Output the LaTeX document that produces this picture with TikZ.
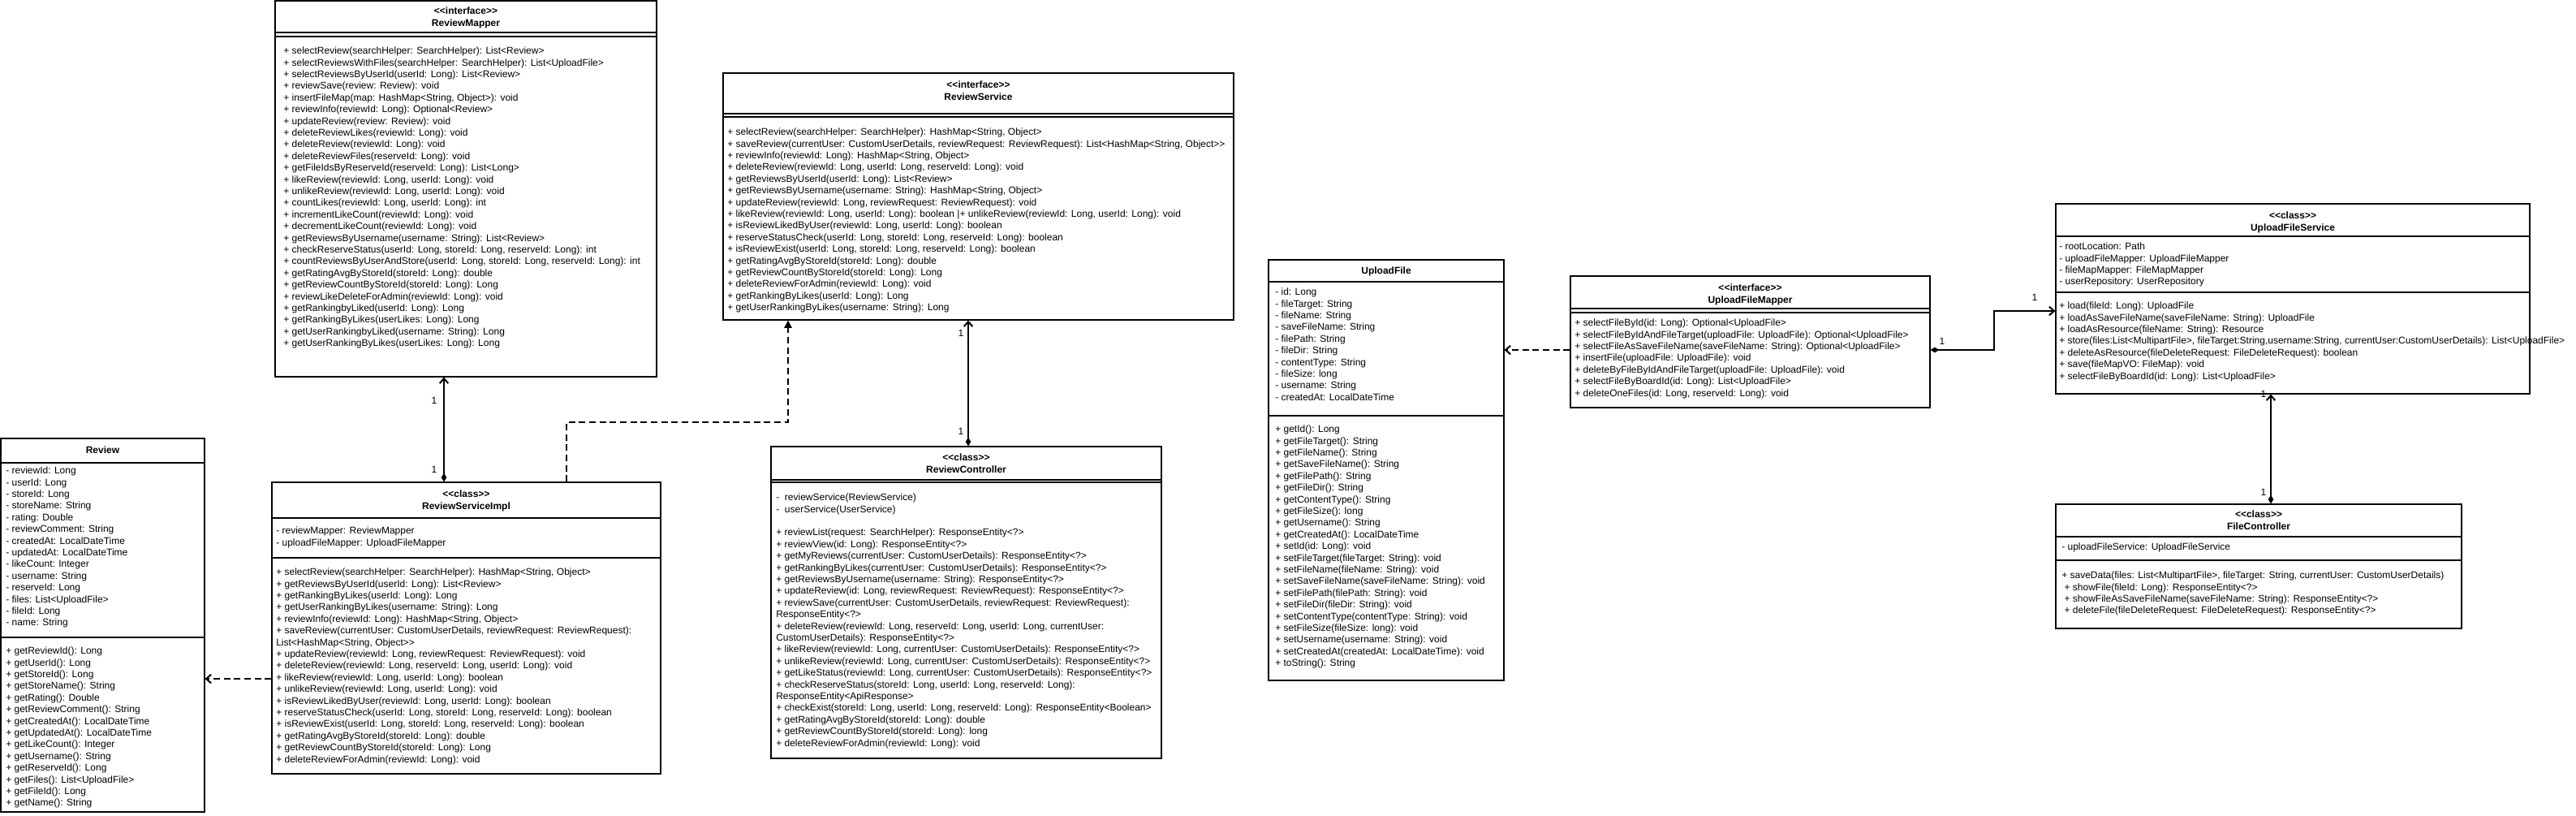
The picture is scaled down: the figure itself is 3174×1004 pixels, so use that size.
\documentclass[tikz,border=0pt]{standalone}
\usepackage{fontspec}
\newfontfamily\umlfont{Liberation Sans}
\usetikzlibrary{fit,arrows.meta}
\newcommand\ft{\umlfont\fontsize{9pt}{10.8pt}\selectfont}
\begin{document}
\begin{tikzpicture}[x=0.75pt,y=-0.75pt,
  box/.style={draw, line width=0.9pt, inner sep=0pt},
  sep/.style={line width=0.9pt},
  txt/.style={anchor=north west, inner sep=0pt, align=left, font=\ft},
  hdr/.style={anchor=north, inner sep=0pt, align=center, font=\ft\bfseries},
  mult/.style={inner sep=0pt, font=\ft},
  assoc/.style={line width=1.5pt, {Diamond[length=8pt,width=5pt]}-{Straight Barb[length=4.5pt,width=8pt]}},
  dep/.style={line width=1.5pt, dash pattern=on 6pt off 3.5pt},
  openhead/.style={-{Straight Barb[length=4.5pt,width=8pt]}},
  filledhead/.style={-{Triangle[length=7pt,width=7pt]}}]
\useasboundingbox (0,0) rectangle (3174,1004);
\fill[white] (0,0) rectangle (3174,1004);

% ---------------- Review
\node[box, fit={(1,540)(252,1000)}] (rv) {};
\draw[sep] (1,570) -- (252,570) (1,785) -- (252,785);
\node[hdr] (rvh) at (126.5,548.4) {\strut Review};
\node[txt] (rva) at (7,573.4) {\strut- reviewId: Long\\- userId: Long\\- storeId: Long\\- storeName: String\\- rating: Double\\- reviewComment: String\\- createdAt: LocalDateTime\\- updatedAt: LocalDateTime\\- likeCount: Integer\\- username: String\\- reserveId: Long\\- files: List<UploadFile>\\- fileId: Long\\- name: String};
\node[txt] (rvm) at (7,795.4) {\strut+ getReviewId(): Long\\+ getUserId(): Long\\+ getStoreId(): Long\\+ getStoreName(): String\\+ getRating(): Double\\+ getReviewComment(): String\\+ getCreatedAt(): LocalDateTime\\+ getUpdatedAt(): LocalDateTime\\+ getLikeCount(): Integer\\+ getUsername(): String\\+ getReserveId(): Long\\+ getFiles(): List<UploadFile>\\+ getFileId(): Long\\+ getName(): String};

% ---------------- ReviewMapper
\node[box, fit={(339,1)(809,464)}] (rm) {};
\draw[sep] (339,40) -- (809,40) (339,45) -- (809,45);
\node[hdr] (rmh) at (574,7.4) {\strut<<interface>>\\ReviewMapper};
\node[txt] (rmm) at (349,56.4) {\strut+ selectReview(searchHelper: SearchHelper): List<Review>\\
+ selectReviewsWithFiles(searchHelper: SearchHelper): List<UploadFile>\\
+ selectReviewsByUserId(userId: Long): List<Review>\\
+ reviewSave(review: Review): void\\
+ insertFileMap(map: HashMap<String, Object>): void\\
+ reviewInfo(reviewId: Long): Optional<Review>\\
+ updateReview(review: Review): void\\
+ deleteReviewLikes(reviewId: Long): void\\
+ deleteReview(reviewId: Long): void\\
+ deleteReviewFiles(reserveId: Long): void\\
+ getFileIdsByReserveId(reserveId: Long): List<Long>\\
+ likeReview(reviewId: Long, userId: Long): void\\
+ unlikeReview(reviewId: Long, userId: Long): void\\
+ countLikes(reviewId: Long, userId: Long): int\\
+ incrementLikeCount(reviewId: Long): void\\
+ decrementLikeCount(reviewId: Long): void\\
+ getReviewsByUsername(username: String): List<Review>\\
+ checkReserveStatus(userId: Long, storeId: Long, reserveId: Long): int\\
+ countReviewsByUserAndStore(userId: Long, storeId: Long, reserveId: Long): int\\
+ getRatingAvgByStoreId(storeId: Long): double\\
+ getReviewCountByStoreId(storeId: Long): Long\\
+ reviewLikeDeleteForAdmin(reviewId: Long): void\\
+ getRankingbyLiked(userId: Long): Long\\
+ getRankingByLikes(userLikes: Long): Long\\
+ getUserRankingbyLiked(username: String): Long\\
+ getUserRankingByLikes(userLikes: Long): Long};

% ---------------- ReviewServiceImpl
\node[box, fit={(335,594)(814,953)}] (rsi) {};
\draw[sep] (335,638) -- (814,638) (335,687) -- (814,687);
\node[hdr] (rsih) at (574.5,602.4) {\strut<<class>>\\ReviewServiceImpl};
\node[txt] (rsia) at (340,647.4) {\strut- reviewMapper: ReviewMapper\\- uploadFileMapper: UploadFileMapper};
\node[txt] (rsim) at (340,698.4) {\strut+ selectReview(searchHelper: SearchHelper): HashMap<String, Object>\\
+ getReviewsByUserId(userId: Long): List<Review>\\
+ getRankingByLikes(userId: Long): Long\\
+ getUserRankingByLikes(username: String): Long\\
+ reviewInfo(reviewId: Long): HashMap<String, Object>\\
+ saveReview(currentUser: CustomUserDetails, reviewRequest: ReviewRequest):\\
List<HashMap<String, Object>>\\
+ updateReview(reviewId: Long, reviewRequest: ReviewRequest): void\\
+ deleteReview(reviewId: Long, reserveId: Long, userId: Long): void\\
+ likeReview(reviewId: Long, userId: Long): boolean\\
+ unlikeReview(reviewId: Long, userId: Long): void\\
+ isReviewLikedByUser(reviewId: Long, userId: Long): boolean\\
+ reserveStatusCheck(userId: Long, storeId: Long, reserveId: Long): boolean\\
+ isReviewExist(userId: Long, storeId: Long, reserveId: Long): boolean\\
+ getRatingAvgByStoreId(storeId: Long): double\\
+ getReviewCountByStoreId(storeId: Long): Long\\
+ deleteReviewForAdmin(reviewId: Long): void};

% ---------------- ReviewService
\node[box, fit={(891,90)(1520,394)}] (rs) {};
\draw[sep] (891,140) -- (1520,140) (891,144) -- (1520,144);
\node[hdr] (rsh) at (1205.5,98.4) {\strut<<interface>>\\ReviewService};
\node[txt] (rsm) at (896,156.4) {\strut+ selectReview(searchHelper: SearchHelper): HashMap<String, Object>\\
+ saveReview(currentUser: CustomUserDetails, reviewRequest: ReviewRequest): List<HashMap<String, Object>>\\
+ reviewInfo(reviewId: Long): HashMap<String, Object>\\
+ deleteReview(reviewId: Long, userId: Long, reserveId: Long): void\\
+ getReviewsByUserId(userId: Long): List<Review>\\
+ getReviewsByUsername(username: String): HashMap<String, Object>\\
+ updateReview(reviewId: Long, reviewRequest: ReviewRequest): void\\
+ likeReview(reviewId: Long, userId: Long): boolean |+ unlikeReview(reviewId: Long, userId: Long): void\\
+ isReviewLikedByUser(reviewId: Long, userId: Long): boolean\\
+ reserveStatusCheck(userId: Long, storeId: Long, reserveId: Long): boolean\\
+ isReviewExist(userId: Long, storeId: Long, reserveId: Long): boolean\\
+ getRatingAvgByStoreId(storeId: Long): double\\
+ getReviewCountByStoreId(storeId: Long): Long\\
+ deleteReviewForAdmin(reviewId: Long): void\\
+ getRankingByLikes(userId: Long): Long\\
+ getUserRankingByLikes(username: String): Long};

% ---------------- ReviewController
\node[box, fit={(950,550)(1431,934)}] (rc) {};
\draw[sep] (950,591) -- (1431,591) (950,594) -- (1431,594);
\node[hdr] (rch) at (1190.5,557.4) {\strut<<class>>\\ReviewController};
\node[txt] (rcm) at (956,606.4) {\strut-\ \ reviewService(ReviewService)\\
-\ \ userService(UserService)\\[10.8pt]
+ reviewList(request: SearchHelper): ResponseEntity<?>\\
+ reviewView(id: Long): ResponseEntity<?>\\
+ getMyReviews(currentUser: CustomUserDetails): ResponseEntity<?>\\
+ getRankingByLikes(currentUser: CustomUserDetails): ResponseEntity<?>\\
+ getReviewsByUsername(username: String): ResponseEntity<?>\\
+ updateReview(id: Long, reviewRequest: ReviewRequest): ResponseEntity<?>\\
+ reviewSave(currentUser: CustomUserDetails, reviewRequest: ReviewRequest):\\
ResponseEntity<?>\\
+ deleteReview(reviewId: Long, reserveId: Long, userId: Long, currentUser:\\
CustomUserDetails): ResponseEntity<?>\\
+ likeReview(reviewId: Long, currentUser: CustomUserDetails): ResponseEntity<?>\\
+ unlikeReview(reviewId: Long, currentUser: CustomUserDetails): ResponseEntity<?>\\
+ getLikeStatus(reviewId: Long, currentUser: CustomUserDetails): ResponseEntity<?>\\
+ checkReserveStatus(storeId: Long, userId: Long, reserveId: Long):\\
ResponseEntity<ApiResponse>\\
+ checkExist(storeId: Long, userId: Long, reserveId: Long): ResponseEntity<Boolean>\\
+ getRatingAvgByStoreId(storeId: Long): double\\
+ getReviewCountByStoreId(storeId: Long): long\\
+ deleteReviewForAdmin(reviewId: Long): void};

% ---------------- UploadFile
\node[box, fit={(1563,320)(1853,838)}] (uf) {};
\draw[sep] (1563,347) -- (1853,347) (1563,512) -- (1853,512);
\node[hdr] (ufh) at (1708,327.4) {\strut UploadFile};
\node[txt] (ufa) at (1571,353.4) {\strut- id: Long\\- fileTarget: String\\- fileName: String\\- saveFileName: String\\- filePath: String\\- fileDir: String\\- contentType: String\\- fileSize: long\\- username: String\\- createdAt: LocalDateTime};
\node[txt] (ufm2) at (1571,522.4) {\strut+ getId(): Long\\+ getFileTarget(): String\\+ getFileName(): String\\+ getSaveFileName(): String\\+ getFilePath(): String\\+ getFileDir(): String\\+ getContentType(): String\\+ getFileSize(): long\\+ getUsername(): String\\+ getCreatedAt(): LocalDateTime\\+ setId(id: Long): void\\+ setFileTarget(fileTarget: String): void\\+ setFileName(fileName: String): void\\+ setSaveFileName(saveFileName: String): void\\+ setFilePath(filePath: String): void\\+ setFileDir(fileDir: String): void\\+ setContentType(contentType: String): void\\+ setFileSize(fileSize: long): void\\+ setUsername(username: String): void\\+ setCreatedAt(createdAt: LocalDateTime): void\\+ toString(): String};

% ---------------- UploadFileMapper
\node[box, fit={(1935,340)(2378,502)}] (ufm) {};
\draw[sep] (1935,380) -- (2378,380) (1935,385) -- (2378,385);
\node[hdr] (ufmh) at (2156.5,348.4) {\strut<<interface>>\\UploadFileMapper};
\node[txt] (ufmm) at (1940,391.4) {\strut+ selectFileById(id: Long): Optional<UploadFile>\\
+ selectFileByIdAndFileTarget(uploadFile: UploadFile): Optional<UploadFile>\\
+ selectFileAsSaveFileName(saveFileName: String): Optional<UploadFile>\\
+ insertFile(uploadFile: UploadFile): void\\
+ deleteByFileByIdAndFileTarget(uploadFile: UploadFile): void\\
+ selectFileByBoardId(id: Long): List<UploadFile>\\
+ deleteOneFiles(id: Long, reserveId: Long): void};

% ---------------- UploadFileService
\node[box, fit={(2533,251)(3117,485)}] (ufs) {};
\draw[sep] (2533,291) -- (3117,291) (2533,360) -- (3117,360);
\node[hdr] (ufsh) at (2825,259.4) {\strut<<class>>\\UploadFileService};
\node[txt] (ufsa) at (2537,297.4) {\strut- rootLocation: Path\\- uploadFileMapper: UploadFileMapper\\- fileMapMapper: FileMapMapper\\- userRepository: UserRepository};
\node[txt] (ufsm) at (2537,370.4) {\strut+ load(fileId: Long): UploadFile\\
+ loadAsSaveFileName(saveFileName: String): UploadFile\\
+ loadAsResource(fileName: String): Resource\\
+ store(files:List<MultipartFile>, fileTarget:String,username:String, currentUser:CustomUserDetails): List<UploadFile>\\
+ deleteAsResource(fileDeleteRequest: FileDeleteRequest): boolean\\
+ save(fileMapVO: FileMap): void\\
+ selectFileByBoardId(id: Long): List<UploadFile>};

% ---------------- FileController
\node[box, fit={(2533,621)(3033,774)}] (fc) {};
\draw[sep] (2533,661) -- (3033,661) (2533,690) -- (3033,690);
\node[hdr] (fch) at (2783,627.4) {\strut<<class>>\\FileController};
\node[txt] (fca) at (2540,667.4) {\strut- uploadFileService: UploadFileService};
\node[txt] (fcm) at (2540,702.4) {\strut+ saveData(files: List<MultipartFile>, fileTarget: String, currentUser: CustomUserDetails)\\
\ + showFile(fileId: Long): ResponseEntity<?>\\
\ + showFileAsSaveFileName(saveFileName: String): ResponseEntity<?>\\
\ + deleteFile(fileDeleteRequest: FileDeleteRequest): ResponseEntity<?>};

% ---------------- connectors
\coordinate (xa) at (547,0);
\coordinate (xb) at (698,0);
\coordinate (xc) at (971,0);
\coordinate (yb) at (0,520);
\coordinate (xd) at (1193,0);
\coordinate (ye) at (0,836);
\coordinate (yf) at (0,431);
\coordinate (xg) at (2457,0);
\coordinate (yg) at (0,383);
\coordinate (xh) at (2798,0);

\draw[assoc] (rsi.north -| xa) -- (rm.south -| xa);
\draw[dep, filledhead] (rsi.north -| xb) -- (xb |- yb) -- (xc |- yb) -- (rs.south -| xc);
\draw[assoc] (rc.north -| xd) -- (rs.south -| xd);
\draw[dep, openhead] (rsi.west |- ye) -- (rv.east |- ye);
\draw[dep, openhead] (ufm.west |- yf) -- (uf.east |- yf);
\draw[assoc] (ufm.east |- yf) -- (xg |- yf) -- (xg |- yg) -- (ufs.west |- yg);
\draw[assoc] (fc.north -| xh) -- (ufs.south -| xh);

% multiplicities
\node[mult] (l1) at (535,493) {1};
\node[mult] (l2) at (535,578) {1};
\node[mult] (l3) at (1184,410) {1};
\node[mult] (l4) at (1184,531) {1};
\node[mult] (l5) at (2393,420) {1};
\node[mult] (l6) at (2507,366) {1};
\node[mult] (l7) at (2789,485) {1};
\node[mult] (l8) at (2789,606) {1};
\end{tikzpicture}
\end{document}
